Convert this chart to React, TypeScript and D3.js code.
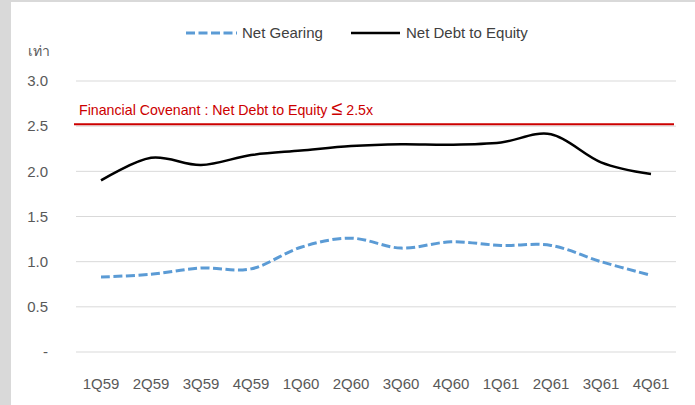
import React from "react";
import * as d3 from "d3";

const categories = ["1Q59","2Q59","3Q59","4Q59","1Q60","2Q60","3Q60","4Q60","1Q61","2Q61","3Q61","4Q61"];
const netGearing = [0.83,0.86,0.93,0.92,1.16,1.26,1.15,1.22,1.18,1.18,1.00,0.85];
const netDebtToEquity = [1.90,2.15,2.07,2.18,2.23,2.28,2.30,2.295,2.32,2.41,2.10,1.97];
const yTicks = [0,0.5,1.0,1.5,2.0,2.5,3.0];
const covenant = 2.5;

const W = 695, H = 405;
const FONT = "'Liberation Sans', Arial, sans-serif";

export default function App() {
  const x = d3.scaleBand().domain(categories).range([76, 676]);
  const y = d3.scaleLinear().domain([0, 3]).range([352, 81]);
  const cx = (c: string) => (x(c) as number) + x.bandwidth() / 2;
  const line = d3.line<number>()
    .x((_, i) => cx(categories[i]))
    .y(d => y(d))
    .curve(d3.curveCatmullRom.alpha(0));
  return (
    <div style={{ position: "fixed", left: 0, top: 0 }}>
      <svg width={W} height={H} style={{ display: "block" }} fontFamily={FONT}>
        <rect x={0} y={0} width={W} height={H} fill="#d9d9d9" />
        <rect x={11} y={2} width={W - 11} height={H - 2} fill="#ffffff" />
        {yTicks.map(t => (
          <g key={t}>
            <line x1={76} x2={676} y1={y(t)} y2={y(t)} stroke="#d9d9d9" strokeWidth={1} />
            <text x={48} y={y(t)} dy="0.35em" textAnchor="end" fontSize={15} fill="#595959">
              {t === 0 ? "-" : t.toFixed(1)}
            </text>
          </g>
        ))}
        <text x={28} y={56} fontSize={14} fill="#595959">เท่า</text>
        {categories.map(c => (
          <text key={c} x={cx(c)} y={389} textAnchor="middle" fontSize={15} fill="#595959">{c}</text>
        ))}
        <line x1={74} x2={674} y1={y(covenant) - 2} y2={y(covenant) - 2} stroke="#cc0000" strokeWidth={2} />
        <text x={79} y={114.5} fontSize={14.2} fill="#cc0000">
          Financial Covenant : Net Debt to Equity <tspan fontSize={20}>≤</tspan> 2.5x
        </text>
        <path d={line(netDebtToEquity) || ""} fill="none" stroke="#000000" strokeWidth={2.5} strokeLinejoin="round" />
        <path d={line(netGearing) || ""} fill="none" stroke="#5b9bd5" strokeWidth={3} strokeDasharray="9,3.5" />
        <line x1={186} x2={237} y1={33} y2={33} stroke="#5b9bd5" strokeWidth={3} strokeDasharray="9,3.5" />
        <text x={242} y={33} dy="0.35em" fontSize={15} fill="#404040">Net Gearing</text>
        <line x1={351} x2={400} y1={33} y2={33} stroke="#000000" strokeWidth={2.5} />
        <text x={406} y={33} dy="0.35em" fontSize={15} fill="#404040">Net Debt to Equity</text>
      </svg>
    </div>
  );
}
